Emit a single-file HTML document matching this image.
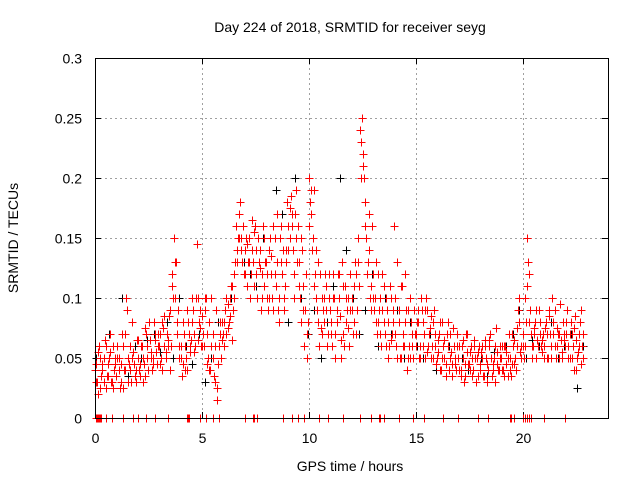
<!DOCTYPE html>
<html><head><meta charset="utf-8"><style>
body{margin:0;background:#fff;}
svg{display:block;font-family:"Liberation Sans",sans-serif;}
</style></head><body>
<svg id="chart" width="640" height="480">
<rect width="640" height="480" fill="#fff"/>
<text x="350" y="32" font-size="14" text-anchor="middle">Day 224 of 2018, SRMTID for receiver seyg</text>
<text x="350" y="471" font-size="14" text-anchor="middle">GPS time / hours</text>
<text transform="translate(18,238) rotate(-90)" font-size="14" text-anchor="middle">SRMTID / TECUs</text>
<g id="grid" shape-rendering="crispEdges"></g>
<g id="ticks"></g>
<g id="black" shape-rendering="crispEdges"></g>
<g id="red" shape-rendering="crispEdges"></g>
<rect x="95.5" y="58.5" width="513" height="360" fill="none" stroke="#000" stroke-width="1" shape-rendering="crispEdges"/>
</svg>
<script>
const xTicks=[0,5,10,15,20];
const yTicks=[0,0.05,0.1,0.15,0.2,0.25,0.3];
const yTickLabels=["0","0.05","0.1","0.15","0.2","0.25","0.3"];
const redA=[.04,.03,.06,.035,.05,.025,.045,.07,.03,.04,
.035,.05,.03,.06,.04,.09,.045,.03,.055,.04,
.05,.035,.06,.045,.07,.04,.055,.05,.065,.045,
.06,.05,.075,.055,.065,.04,.12,.15,.13,.09,
.05,.045,.06,.04,.07,.065,.09,.06,.1,.075,
.085,.06,.1,.05,.04,.07,.03,.015,.06,.05,
.07,.09,.075,.1,.065,.1,.16,.15,.18,.13,
.14,.11,.15,.12,.13,.16,.1,.14,.12,.11,
.13,.09,.15,.1,.12,.17,.08,.13,.14,.11,
.18,.15,.17,.12,.19,.16,.1,.14,.06,.05,
.2,.17,.15,.12,.09,.06,.1,.08,.11,.07,
.09,.06,.1,.08,.12,.05,.07,.11,.09,.06,
.1,.08,.12,.15,.24,.25,.2,.15,.17,.11,
.12,.1,.07,.09,.06,.08,.1,.05,.11,.07,
.16,.06,.09,.05,.07,.12,.04,.06,.08,.05,
.06,.08,.05,.09,.07,.1,.06,.085,.05,.07,
.05,.07,.04,.06,.045,.08,.05,.035,.06,.04,
.05,.04,.065,.035,.055,.045,.06,.04,.05,.035,
.045,.06,.035,.05,.04,.07,.045,.03,.055,.04,
.05,.04,.06,.035,.05,.045,.065,.04,.09,.055,
.06,.1,.15,.12,.07,.06,.08,.065,.07,.055,
.06,.08,.05,.07,.1,.06,.075,.05,.065,.08,
.06,.09,.05,.07,.04,.065,.055,.08,.06];
const redB=[.03,.055,.025,.045,.065,.035,.05,.03,.06,.045,
.05,.025,.07,.04,.1,.03,.06,.05,.035,.065,
.04,.06,.03,.075,.05,.065,.04,.08,.055,.07,
.045,.08,.06,.07,.085,.06,.1,.13,.08,.06,
.035,.07,.05,.08,.055,.1,.07,.145,.08,.06,
.07,.1,.045,.08,.06,.035,.09,.045,.07,.08,
.06,.1,.08,.11,.09,.13,.14,.17,.15,.12,
.15,.13,.1,.14,.155,.12,.13,.09,.16,.13,
.1,.14,.12,.16,.11,.09,.15,.12,.1,.13,
.16,.185,.14,.17,.13,.11,.15,.09,.12,.08,
.18,.14,.19,.1,.13,.075,.09,.12,.06,.1,
.07,.1,.05,.12,.085,.13,.06,.1,.075,.09,
.07,.13,.09,.11,.23,.21,.18,.13,.1,.16,
.09,.13,.08,.1,.12,.07,.09,.06,.1,.08,
.07,.13,.05,.11,.06,.09,.05,.1,.06,.07,
.08,.05,.1,.06,.09,.055,.075,.06,.09,.045,
.065,.04,.08,.05,.07,.04,.055,.075,.045,.06,
.04,.06,.03,.07,.045,.055,.035,.065,.05,.06,
.055,.035,.065,.045,.06,.035,.05,.075,.04,.06,
.04,.06,.045,.07,.035,.06,.05,.075,.1,.06,
.05,.08,.13,.09,.06,.075,.05,.09,.06,.07,
.075,.05,.09,.06,.08,.05,.07,.095,.055,.07,
.07,.05,.08,.06,.085,.05,.07,.045,.07];
const redC=[.045,.02,.05,.04,.03,.06,.035,.055,.025,.05,
.06,.04,.045,.025,.07,.05,.04,.08,.045,.03,
.065,.045,.05,.035,.06,.08,.05,.045,.07,.06,
.07,.04,.085,.05,.06,.09,.11,.1,.07,.05,
.06,.08,.04,.09,.06,.08,.055,.1,.065,.09,
.06,.09,.07,.04,.1,.05,.06,.025,.08,.065,
.08,.07,.095,.085,.11,.12,.13,.15,.14,.16,
.12,.145,.13,.165,.11,.14,.15,.125,.1,.15,
.12,.1,.135,.09,.15,.13,.1,.16,.09,.14,
.14,.175,.16,.1,.15,.13,.08,.11,.09,.07,
.16,.19,.11,.14,.08,.12,.07,.1,.09,.12,
.08,.12,.07,.09,.1,.065,.11,.08,.1,.12,
.09,.11,.07,.13,.2,.22,.16,.12,.14,.09,
.1,.08,.12,.07,.09,.11,.06,.08,.065,.09,
.1,.05,.08,.11,.06,.08,.09,.05,.07,.09,
.07,.09,.06,.08,.05,.09,.07,.05,.08,.06,
.055,.08,.05,.065,.035,.06,.07,.045,.05,.07,
.06,.035,.05,.045,.07,.04,.05,.06,.03,.055,
.04,.05,.06,.03,.065,.05,.04,.06,.045,.05,
.06,.035,.055,.05,.04,.07,.045,.06,.08,.05,
.07,.06,.11,.08,.05,.07,.09,.06,.08,.065,
.05,.07,.085,.05,.07,.09,.06,.07,.05,.065,
.08,.06,.07,.05,.075,.04,.06,.09,.05];
const blackVals=[.05,.04,.07,.045,.1,.035,.06,.05,.065,.07,.055,.08,.05,.1,.06,.045,.07,.03,.05,.08,.06,.1,.14,.13,.12,.11,.15,.1,.19,.17,.08,.2,.1,.07,.09,.05,.08,.11,.2,.14,.1,.07,.09,.12,.06,.1,.07,.09,.05,.08,.06,.05,.07,.04,.05,.06,.045,.05,.04,.06,.05,.035,.055,.05,.06,.07,.09,.05,.065,.06,.075,.08,.05,.06,.07,.025,.06];
const zeroTimes=[0.05,0.1,0.15,0.2,0.25,0.3,0.5,0.8,1.3,1.8,2.0,2.4,2.8,3.4,4.3,4.35,4.4,4.9,5.2,5.5,5.8,7.0,7.4,7.45,7.6,8.8,9.2,9.5,9.8,10.5,10.9,11.6,12.4,12.9,13.3,13.35,13.5,14.2,14.9,15.4,16.3,17.0,17.9,18.4,19.4,19.45,19.6,20.0,20.1,20.2,20.3,20.4,21.0,22.0];

const NS="http://www.w3.org/2000/svg";
const X=t=>Math.round(95+t*(513/24))+0.5;
const Y=v=>Math.round(418-v*1200)+0.5;
function mk(tag,attrs,parent){const e=document.createElementNS(NS,tag);for(const k in attrs)e.setAttribute(k,attrs[k]);parent.appendChild(e);return e;}
const grid=document.getElementById('grid'),ticks=document.getElementById('ticks');
xTicks.forEach(t=>{
  if(t>0){const g=mk('line',{x1:X(t),x2:X(t),y1:58,y2:418,stroke:'#a0a0a0','stroke-dasharray':'2,3'},grid);
  
  }
  mk('line',{x1:X(t),x2:X(t),y1:418,y2:412,stroke:'#000','shape-rendering':'crispEdges'},ticks);
  mk('line',{x1:X(t),x2:X(t),y1:58,y2:64,stroke:'#000','shape-rendering':'crispEdges'},ticks);
  const l=mk('text',{x:X(t),y:443,'font-size':14,'text-anchor':'middle'},ticks);
  l.textContent=t;
  
  
});
yTicks.forEach((v,i)=>{
  if(v>0&&v<0.3){const g=mk('line',{x1:95,x2:608,y1:Y(v),y2:Y(v),stroke:'#a0a0a0','stroke-dasharray':'2,3'},grid);
  
  }
  mk('line',{x1:95,x2:101,y1:Y(v),y2:Y(v),stroke:'#000','shape-rendering':'crispEdges'},ticks);
  mk('line',{x1:608,x2:602,y1:Y(v),y2:Y(v),stroke:'#000','shape-rendering':'crispEdges'},ticks);
  const l=mk('text',{x:82,y:Y(v)+5,'font-size':14,'text-anchor':'end'},ticks);
  l.textContent=yTickLabels[i];
  
  
});
function plus(g,x,y,c){
  const p=mk('path',{d:`M${x-4},${y}h8M${x},${y-4}v8`,stroke:c,'stroke-width':1,fill:'none'},g);
  
  
}
const bg=document.getElementById('black'),rg=document.getElementById('red');
blackVals.forEach((v,i)=>plus(bg,X(Math.min(i*0.3,22.8)+0.05),Y(v),'#000'));
redA.forEach((v,i)=>plus(rg,X(i*0.1),Y(v),'#f00'));
redB.forEach((v,i)=>plus(rg,X(i*0.1+0.05),Y(v),'#f00'));
redC.forEach((v,i)=>plus(rg,X(i*0.1+0.025),Y(v),'#f00'));
zeroTimes.forEach(t=>plus(rg,X(t),Y(0),'#f00'));
</script>
</body></html>
